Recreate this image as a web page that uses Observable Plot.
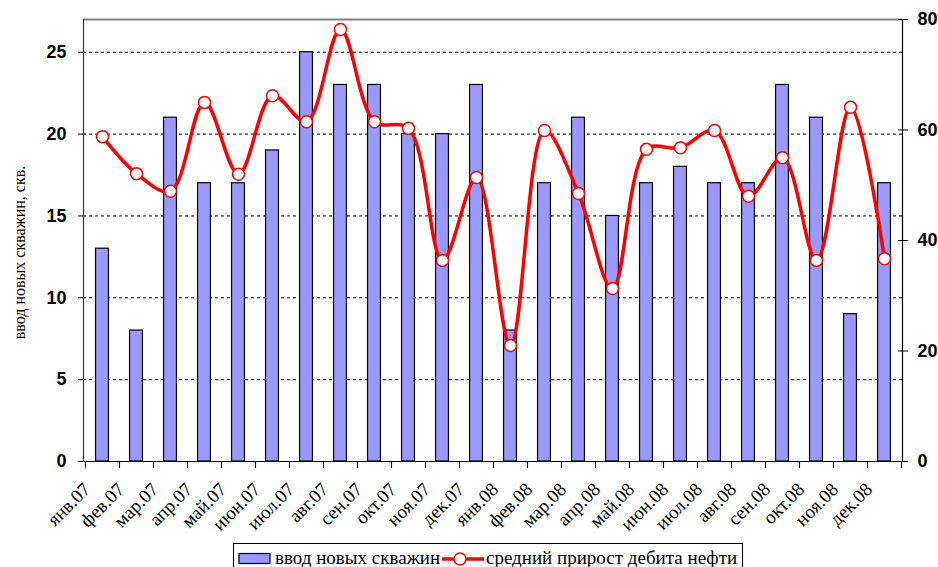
<!DOCTYPE html>
<html>
<head>
<meta charset="utf-8">
<script src="https://cdn.jsdelivr.net/npm/d3@7"></script>
<script src="https://cdn.jsdelivr.net/npm/@observablehq/plot@0.6"></script>
<style>
  body { margin: 0; background: #fff; }
  #wrap { position: relative; width: 938px; height: 567px; overflow: hidden; }
  #legend {
    position: absolute; left: 233px; top: 543px; width: 510px; height: 30px;
    border: 1px solid #000; box-sizing: border-box; background: #fff;
    font-family: "Liberation Serif", "Times New Roman", serif; font-size: 19px;
    white-space: nowrap;
  }
  #legend > * { position: absolute; }
</style>
</head>
<body>
<div id="wrap">
  <div id="chart"></div>
  <div id="legend">
    <svg width="34" height="14" style="left:4px; top:8px"><rect x="1" y="1.5" width="31" height="10" fill="#9999ff" stroke="#000" stroke-width="1.2"></rect></svg>
    <span style="left:41px; top:3px">ввод новых скважин</span>
    <svg width="46" height="16" style="left:206px; top:7px"><line x1="2" y1="8" x2="44" y2="8" stroke="#ff0000" stroke-width="3.5"></line><circle cx="20" cy="8" r="6" fill="#fff" stroke="#ff0000" stroke-width="1.5"></circle></svg>
    <span style="left:252px; top:3px">средний прирост дебита нефти</span>
  </div>
</div>
<script>
const months = ["янв.07","фев.07","мар.07","апр.07","май.07","июн.07","июл.07","авг.07","сен.07","окт.07","ноя.07","дек.07",
                "янв.08","фев.08","мар.08","апр.08","май.08","июн.08","июл.08","авг.08","сен.08","окт.08","ноя.08","дек.08"];
const newWells = [13, 8, 21, 17, 17, 19, 25, 23, 23, 20, 20, 23,
                  8, 17, 21, 15, 17, 18, 17, 17, 23, 21, 9, 17];
const avgOilGain = [58.8, 52.1, 48.9, 65.0, 52.0, 66.2, 61.5, 78.2, 61.5, 60.3, 36.4, 51.4,
                    21.0, 59.9, 48.5, 31.3, 56.5, 56.8, 59.9, 48.0, 55.0, 36.4, 64.1, 36.7];
const leftTicks = [0, 5, 10, 15, 20, 25];
const gridTicks = [5, 10, 15, 20, 25];
const rightTicks = [0, 20, 40, 60, 80];
const leftMax = 27, rightMax = 80;

const k = leftMax / rightMax;
const data = months.map((m, i) => ({month: m, wells: newWells[i], gain: avgOilGain[i]}));

const W = 938, H = 540, mL = 83, mR = 36, mT = 19, mB = 79;
const step = (W - mL - mR) / months.length;
const barW = 13;
const inset = (step - barW) / 2;

const sansBold = {fontFamily: "'Liberation Sans', Arial, sans-serif", fontWeight: "bold", fontSize: 18};
const serif = "'Liberation Serif', 'Times New Roman', serif";
const blank = () => "";

const chart = Plot.plot({
  width: W, height: H,
  marginLeft: mL, marginRight: mR, marginTop: mT, marginBottom: mB,
  x: {domain: months, padding: 0, axis: null},
  y: {domain: [0, leftMax], axis: null},
  style: {background: "#fff", overflow: "visible"},
  marks: [
    Plot.gridY(gridTicks, {stroke: "#000", strokeOpacity: 1, strokeDasharray: "3,3", strokeWidth: 1}),
    Plot.ruleY([leftMax], {stroke: "#808080", strokeWidth: 2}),
    Plot.barY(data, {x: "month", y: "wells", fill: "#9999ff", stroke: "#000", strokeWidth: 1.2, insetLeft: inset, insetRight: inset}),
    Plot.ruleY([0], {stroke: "#000", strokeWidth: 1.2}),
    Plot.frame({anchor: "left", stroke: "#333", strokeWidth: 1.2}),
    Plot.frame({anchor: "right", stroke: "#000", strokeWidth: 1.2}),
    Plot.axisY({anchor: "left", ticks: leftTicks, tickSize: 5, tickPadding: 12, stroke: "#000", label: null, ...sansBold}),
    Plot.axisY({anchor: "right", ticks: rightTicks.map(v => v * k), tickFormat: v => String(Math.round(v / k)),
                tickSize: 5, tickPadding: 10, stroke: "#000", label: null, ...sansBold}),
    Plot.axisY({anchor: "right", ticks: rightTicks.map(v => v * k), tickFormat: blank, tickSize: 5, dx: -5, stroke: "#000", label: null}),
    Plot.text(data, {x: "month", text: "month", frameAnchor: "bottom", textAnchor: "end", rotate: -45,
                     dx: -11, dy: 29, fontFamily: serif, fontSize: 19, fill: "#000"}),
    Plot.axisX({ticks: months, tickSize: 7, tickFormat: blank, dx: step / 2, stroke: "#000", label: null}),
    Plot.axisX({ticks: [months[0]], tickSize: 7, tickFormat: blank, dx: -step / 2, stroke: "#000", label: null}),
    Plot.line(data, {x: "month", y: d => d.gain * k, stroke: "#ff0000", strokeWidth: 3.5, curve: "catmull-rom"}),
    Plot.dot(data, {x: "month", y: d => d.gain * k, r: 6, fill: "#fff", stroke: "#ff0000", strokeWidth: 1.5}),
    Plot.text(["ввод новых скважин, скв."], {frameAnchor: "left", textAnchor: "middle", dx: -64, dy: 12, rotate: -90,
                                              fontFamily: serif, fontSize: 16, fill: "#000"})
  ]
});
document.getElementById("chart").appendChild(chart);
</script>
</body>
</html>
